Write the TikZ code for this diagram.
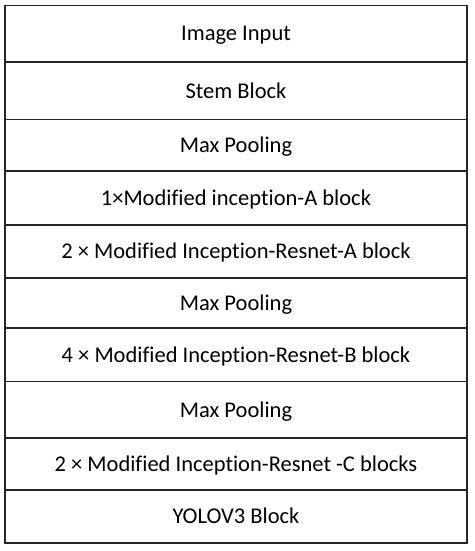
\documentclass[tikz,border=0pt]{standalone}
\usepackage{fontspec}
\setmainfont{Carlito}[Ligatures=NoCommon]
\usetikzlibrary{chains,positioning}

\begin{document}
\begin{tikzpicture}[x=1pt, y=1pt, every node/.style={rectangle, draw=black!85, line width=1.6pt, minimum width=462pt, text height=14.5pt, text depth=0pt, inner sep=0pt, outer sep=0pt, font=\fontsize{22.5}{27}\selectfont}, node distance=0pt, start chain=going below]

		\useasboundingbox (0,0) rectangle (474,-551);

		\node[on chain, anchor=north west, minimum height=56.5pt] (input) at (5,-5.5) {Image Input};
		\node[on chain, minimum height=57.5pt] (stem) {Stem Block};
		\node[on chain, minimum height=51.5pt] (pool1) {Max Pooling};
		\node[on chain, minimum height=54pt] (incA) {1×Modified inception-A block};
		\node[on chain, minimum height=53pt] (resA) {2 × Modified Inception-Resnet-A block};
		\node[on chain, minimum height=50pt] (pool2) {Max Pooling};
		\node[on chain, minimum height=53.5pt] (resB) {4 × Modified Inception-Resnet-B block};
		\node[on chain, minimum height=56.5pt] (pool3) {Max Pooling};
		\node[on chain, minimum height=52pt] (resC) {2 × Modified Inception-Resnet -C blocks};
		\node[on chain, minimum height=53pt] (yolo) {YOLOV3 Block};

\end{tikzpicture}
\end{document}
